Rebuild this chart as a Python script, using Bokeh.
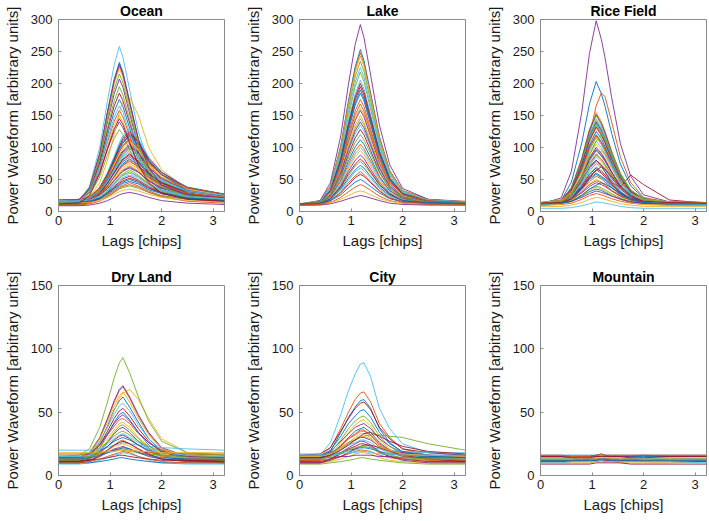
from bokeh.plotting import figure
from bokeh.layouts import column, row
from bokeh.models import FixedTicker
from bokeh.embed import file_html
from bokeh.resources import INLINE

# ---------------- data ----------------
LAGS = [0, 0.4, 0.6, 0.8, 0.95, 1.08, 1.18, 1.25, 1.38, 1.55, 1.75, 2.0, 2.5, 3.22]

X_TICKS = [0, 1, 2, 3]
Y_TICKS_TOP = [0, 50, 100, 150, 200, 250, 300]
Y_TICKS_BOTTOM = [0, 50, 100, 150]

TITLES = ["Ocean", "Lake", "Rice Field", "Dry Land", "City", "Mountain"]

OCEAN = [
    [14, 16, 36, 91, 156, 207, 233, 218, 172, 113, 69, 40, 25, 21],
    [16, 18, 37, 90, 154, 203, 228, 213, 169, 111, 69, 41, 27, 23],
    [13, 15, 34, 87, 150, 199, 224, 209, 165, 108, 66, 38, 24, 20],
    [15, 17, 34, 82, 140, 184, 207, 194, 153, 101, 63, 38, 25, 21],
    [12, 14, 30, 76, 131, 173, 195, 182, 144, 94, 58, 34, 21, 18],
    [15, 17, 39, 100, 173, 229, 258, 241, 190, 124, 76, 44, 27, 22],
    [17, 19, 34, 76, 126, 165, 185, 173, 138, 93, 59, 37, 25, 22],
    [14, 16, 30, 70, 119, 156, 175, 164, 130, 86, 54, 33, 22, 19],
    [16, 17, 30, 66, 108, 141, 158, 148, 118, 80, 52, 33, 23, 21],
    [13, 14, 27, 61, 102, 134, 150, 140, 112, 75, 47, 29, 20, 18],
    [18, 19, 30, 61, 97, 125, 140, 131, 106, 73, 49, 33, 24, 22],
    [14, 15, 25, 54, 88, 114, 128, 120, 96, 65, 43, 28, 20, 19],
    [15, 15, 21, 38, 61, 86, 107, 118, 130, 113, 84, 61, 38, 27],
    [13, 13, 19, 35, 58, 82, 103, 114, 125, 108, 80, 58, 35, 24],
    [17, 17, 22, 38, 58, 80, 99, 108, 120, 104, 79, 58, 38, 27],
    [12, 12, 17, 33, 53, 75, 94, 103, 115, 99, 74, 53, 33, 22],
    [16, 16, 21, 35, 54, 74, 94, 102, 110, 97, 73, 54, 35, 25],
    [14, 14, 19, 32, 50, 70, 87, 95, 105, 92, 69, 50, 32, 23],
    [11, 11, 16, 29, 46, 67, 82, 91, 100, 87, 65, 47, 29, 20],
    [15, 15, 19, 31, 47, 65, 79, 87, 95, 83, 63, 47, 31, 23],
    [13, 13, 17, 28, 44, 61, 75, 82, 90, 78, 59, 44, 28, 21],
    [18, 18, 21, 31, 45, 60, 72, 78, 85, 76, 58, 45, 31, 25],
    [12, 12, 15, 26, 39, 54, 66, 73, 80, 70, 53, 39, 26, 19],
    [16, 16, 19, 28, 40, 53, 63, 69, 75, 67, 51, 40, 28, 22],
    [14, 14, 17, 25, 36, 48, 59, 64, 70, 62, 48, 36, 25, 20],
    [10, 10, 13, 21, 32, 44, 54, 59, 65, 57, 43, 32, 21, 16],
    [17, 17, 19, 26, 34, 44, 51, 56, 60, 54, 43, 34, 26, 21],
    [13, 13, 15, 21, 30, 39, 46, 51, 55, 49, 39, 30, 21, 17],
    [15, 15, 17, 22, 29, 36, 42, 46, 50, 45, 36, 29, 22, 19],
    [12, 12, 14, 19, 25, 32, 38, 41, 45, 40, 32, 25, 19, 15],
    [15, 15, 22, 45, 80, 120, 155, 172, 178, 150, 100, 65, 35, 25],
    [9, 9, 10, 13, 17, 22, 26, 28, 30, 27, 22, 17, 13, 11],
    [14, 14, 15, 19, 24, 30, 35, 37, 40, 36, 30, 24, 19, 17],
    [14, 14, 20, 37, 60, 85, 105, 117, 128, 113, 85, 62, 37, 25],
    [16, 16, 21, 37, 58, 82, 101, 111, 122, 108, 82, 61, 37, 27],
    [12, 12, 17, 33, 54, 78, 97, 107, 118, 104, 78, 57, 33, 23],
    [18, 18, 23, 37, 56, 76, 93, 103, 112, 100, 76, 57, 37, 27],
    [13, 13, 18, 32, 51, 72, 89, 99, 108, 96, 72, 53, 32, 23],
    [15, 15, 19, 32, 50, 69, 85, 93, 102, 91, 69, 52, 32, 24],
    [11, 11, 15, 28, 46, 65, 81, 89, 98, 87, 65, 48, 28, 20],
    [17, 17, 21, 32, 47, 64, 77, 85, 92, 82, 64, 49, 32, 25],
    [14, 14, 18, 29, 44, 60, 73, 81, 88, 78, 60, 45, 29, 21],
    [12, 12, 16, 26, 40, 55, 68, 75, 82, 73, 55, 41, 26, 19],
    [16, 16, 19, 28, 41, 54, 66, 72, 78, 70, 54, 42, 28, 22],
    [13, 13, 16, 25, 37, 50, 60, 66, 72, 64, 50, 38, 25, 19],
    [15, 15, 18, 26, 36, 48, 57, 63, 68, 61, 48, 37, 26, 20],
    [11, 11, 14, 21, 31, 43, 52, 57, 62, 55, 43, 32, 21, 16],
    [16, 16, 18, 24, 32, 41, 49, 53, 57, 52, 41, 33, 24, 20],
    [12, 12, 14, 20, 28, 37, 44, 48, 52, 47, 37, 29, 20, 16],
    [14, 14, 16, 21, 27, 34, 40, 44, 47, 43, 34, 28, 21, 17],
    [10, 10, 12, 16, 23, 30, 36, 39, 42, 38, 30, 23, 16, 13],
    [13, 13, 14, 17, 22, 27, 31, 33, 35, 32, 27, 22, 17, 15],
    [15, 17, 37, 90, 155, 204, 230, 215, 170, 112, 69, 41, 26, 21],
    [14, 16, 34, 84, 145, 191, 215, 201, 159, 104, 64, 38, 24, 20],
    [15, 17, 30, 68, 113, 147, 165, 155, 123, 83, 53, 33, 23, 20],
    [12, 13, 25, 59, 98, 129, 145, 136, 108, 72, 45, 28, 19, 16],
]

LAKE = [
    [10, 15, 39, 102, 173, 226, 253, 236, 185, 117, 63, 32, 17, 14],
    [12, 17, 40, 102, 170, 222, 248, 231, 182, 116, 64, 33, 19, 16],
    [11, 16, 39, 99, 166, 217, 243, 227, 178, 113, 62, 32, 18, 14],
    [11, 17, 45, 118, 199, 261, 292, 272, 213, 135, 73, 36, 19, 15],
    [10, 14, 35, 89, 149, 195, 218, 203, 160, 102, 56, 29, 16, 13],
    [12, 16, 35, 85, 141, 184, 205, 192, 151, 97, 54, 29, 18, 15],
    [11, 15, 33, 81, 134, 175, 195, 182, 143, 92, 51, 28, 17, 14],
    [10, 14, 31, 77, 127, 166, 185, 173, 136, 87, 49, 26, 15, 13],
    [11, 14, 31, 73, 121, 157, 175, 164, 129, 83, 47, 26, 16, 13],
    [12, 15, 30, 69, 113, 146, 162, 152, 120, 78, 45, 26, 17, 14],
    [10, 13, 28, 66, 109, 142, 158, 148, 117, 75, 43, 23, 14, 12],
    [11, 14, 27, 62, 101, 130, 145, 136, 107, 70, 40, 23, 15, 13],
    [12, 14, 27, 59, 94, 121, 135, 126, 101, 66, 39, 23, 16, 14],
    [10, 12, 24, 55, 89, 115, 128, 120, 95, 62, 36, 21, 14, 12],
    [11, 13, 23, 49, 79, 101, 112, 105, 84, 55, 33, 20, 14, 13],
    [12, 14, 23, 47, 74, 95, 105, 98, 79, 53, 32, 20, 15, 13],
    [10, 12, 20, 42, 67, 86, 95, 89, 71, 47, 29, 18, 13, 11],
    [11, 13, 20, 40, 63, 80, 88, 83, 66, 45, 28, 18, 13, 12],
    [12, 13, 20, 37, 56, 71, 78, 73, 60, 41, 27, 18, 14, 13],
    [10, 11, 17, 32, 49, 62, 68, 64, 52, 36, 23, 15, 12, 11],
    [11, 12, 17, 29, 42, 53, 58, 55, 45, 32, 21, 15, 12, 12],
    [12, 13, 17, 26, 37, 46, 50, 47, 39, 29, 20, 15, 13, 12],
    [10, 11, 14, 22, 31, 38, 42, 40, 33, 24, 17, 13, 11, 10],
    [11, 11, 14, 19, 25, 30, 32, 31, 26, 20, 16, 13, 12, 11],
    [10, 10, 12, 16, 20, 23, 25, 24, 21, 17, 13, 11, 10, 10],
    [11, 15, 38, 96, 161, 210, 235, 219, 172, 110, 60, 31, 18, 14],
    [12, 16, 38, 93, 155, 202, 225, 210, 165, 106, 59, 31, 18, 15],
    [10, 14, 33, 82, 137, 179, 200, 187, 147, 94, 52, 27, 16, 13],
    [11, 15, 32, 79, 131, 170, 190, 177, 140, 90, 50, 27, 16, 14],
    [12, 15, 31, 71, 117, 151, 168, 157, 124, 81, 46, 26, 17, 14],
    [10, 13, 27, 63, 104, 135, 150, 140, 111, 72, 41, 23, 14, 12],
    [11, 14, 26, 60, 97, 126, 140, 131, 104, 68, 39, 23, 15, 13],
    [12, 14, 25, 53, 84, 108, 120, 112, 90, 60, 36, 22, 15, 14],
    [10, 12, 21, 44, 70, 90, 100, 94, 75, 50, 30, 18, 13, 11],
    [11, 12, 20, 38, 59, 74, 82, 77, 62, 42, 27, 17, 13, 12],
    [12, 13, 19, 35, 52, 65, 72, 68, 55, 38, 25, 17, 14, 13],
    [10, 11, 16, 30, 45, 56, 62, 58, 47, 33, 21, 15, 12, 11],
]

RICE = [
    [11, 17, 46, 107, 168, 203, 184, 165, 122, 74, 40, 21, 13, 11],
    [13, 15, 30, 70, 120, 165, 185, 180, 140, 85, 45, 22, 14, 13],
    [12, 16, 38, 84, 129, 155, 141, 126, 95, 59, 33, 19, 13, 12],
    [12, 21, 63, 155, 247, 298, 269, 241, 178, 106, 55, 26, 15, 12],
    [10, 14, 35, 80, 125, 150, 136, 122, 91, 56, 31, 17, 11, 10],
    [13, 17, 37, 79, 121, 145, 132, 119, 90, 57, 33, 20, 14, 13],
    [11, 15, 34, 76, 117, 140, 127, 114, 86, 54, 30, 17, 12, 11],
    [14, 18, 36, 76, 116, 138, 126, 113, 86, 55, 33, 20, 15, 14],
    [12, 16, 34, 74, 113, 135, 123, 110, 83, 53, 30, 18, 13, 12],
    [10, 14, 32, 70, 108, 130, 118, 106, 80, 50, 28, 16, 11, 10],
    [13, 16, 32, 67, 101, 120, 109, 99, 75, 48, 29, 18, 14, 13],
    [11, 14, 30, 63, 96, 115, 105, 94, 71, 45, 27, 16, 12, 11],
    [12, 15, 30, 61, 92, 110, 100, 90, 69, 44, 27, 17, 13, 12],
    [10, 13, 26, 55, 84, 100, 91, 82, 62, 40, 24, 15, 11, 10],
    [14, 16, 29, 55, 80, 95, 87, 79, 61, 41, 26, 18, 15, 14],
    [12, 14, 26, 51, 76, 90, 82, 74, 57, 38, 24, 16, 13, 12],
    [11, 13, 24, 48, 72, 85, 78, 70, 54, 35, 22, 15, 12, 11],
    [13, 15, 25, 47, 68, 80, 73, 67, 52, 35, 23, 16, 14, 13],
    [10, 12, 22, 43, 63, 75, 69, 62, 48, 31, 20, 13, 11, 10],
    [12, 14, 22, 41, 60, 70, 64, 58, 46, 31, 21, 15, 13, 12],
    [11, 13, 21, 38, 55, 65, 60, 54, 42, 29, 19, 14, 12, 11],
    [14, 15, 22, 37, 52, 60, 55, 51, 41, 29, 21, 16, 15, 14],
    [12, 13, 20, 34, 47, 55, 51, 46, 37, 26, 18, 14, 13, 12],
    [10, 11, 17, 30, 43, 50, 46, 42, 33, 23, 16, 12, 10, 10],
    [13, 14, 19, 29, 39, 45, 42, 39, 32, 24, 18, 15, 13, 13],
    [11, 12, 16, 26, 35, 40, 37, 34, 28, 21, 15, 12, 11, 11],
    [5, 5, 6, 9, 12, 15, 14, 13, 11, 8, 6, 5, 5, 5],
    [12, 14, 26, 48, 70, 80, 72, 62, 45, 38, 57, 42, 18, 13],
    [12, 13, 16, 24, 31, 35, 33, 30, 25, 20, 15, 13, 12, 12],
    [10, 11, 13, 19, 25, 28, 26, 24, 20, 16, 13, 11, 10, 10],
    [8, 8, 10, 14, 19, 22, 21, 19, 16, 12, 10, 8, 8, 8],
    [12, 16, 37, 82, 127, 152, 138, 124, 93, 58, 33, 19, 13, 12],
    [14, 18, 37, 78, 119, 142, 129, 116, 88, 56, 33, 20, 15, 14],
    [11, 15, 34, 74, 114, 137, 124, 112, 84, 53, 30, 17, 12, 11],
    [13, 17, 34, 73, 111, 132, 120, 108, 82, 52, 31, 19, 14, 13],
    [10, 13, 31, 68, 104, 125, 114, 102, 77, 48, 27, 16, 11, 10],
    [12, 15, 31, 65, 99, 118, 107, 97, 73, 47, 28, 17, 13, 12],
    [14, 17, 30, 60, 89, 105, 96, 87, 67, 44, 28, 19, 15, 14],
    [11, 14, 26, 54, 82, 97, 88, 80, 61, 39, 24, 15, 12, 11],
    [13, 15, 27, 51, 75, 88, 81, 73, 57, 38, 24, 17, 14, 13],
    [10, 12, 22, 44, 66, 78, 71, 64, 49, 32, 20, 13, 11, 10],
    [12, 14, 22, 40, 58, 68, 62, 57, 44, 30, 20, 15, 13, 12],
    [11, 12, 19, 35, 50, 58, 53, 49, 38, 27, 18, 13, 11, 11],
    [13, 14, 19, 31, 42, 48, 45, 41, 33, 25, 18, 15, 13, 13],
    [10, 11, 15, 24, 33, 38, 35, 32, 26, 19, 14, 11, 10, 10],
    [12, 13, 16, 22, 28, 32, 30, 28, 24, 19, 15, 13, 12, 12],
    [12, 14, 26, 55, 88, 110, 120, 114, 92, 60, 34, 19, 13, 12],
    [11, 13, 22, 45, 71, 87, 95, 90, 73, 48, 28, 16, 12, 11],
    [13, 14, 20, 36, 53, 64, 70, 66, 55, 38, 24, 16, 14, 13],
    [12, 13, 16, 25, 35, 41, 45, 43, 37, 28, 19, 14, 12, 12],
]

DRY_LAND = [
    [11, 12, 15, 26, 39, 52, 59, 62, 54, 42, 29, 19, 13, 12],
    [12, 13, 17, 29, 44, 58, 67, 70, 61, 47, 33, 21, 14, 13],
    [14, 14, 17, 26, 38, 51, 61, 65, 68, 60, 45, 29, 18, 16],
    [13, 14, 18, 30, 45, 59, 68, 71, 62, 48, 34, 22, 15, 14],
    [15, 16, 21, 38, 58, 77, 89, 93, 81, 62, 43, 27, 18, 16],
    [14, 14, 17, 27, 38, 48, 55, 57, 51, 40, 29, 20, 16, 14],
    [12, 12, 15, 24, 35, 45, 51, 53, 47, 37, 27, 18, 14, 12],
    [10, 10, 13, 22, 32, 42, 48, 50, 44, 34, 24, 16, 12, 10],
    [15, 15, 17, 24, 32, 39, 44, 45, 41, 33, 26, 20, 16, 15],
    [13, 13, 15, 22, 29, 36, 41, 42, 38, 30, 23, 17, 14, 13],
    [11, 11, 13, 19, 26, 33, 37, 38, 34, 27, 21, 15, 12, 11],
    [16, 16, 18, 22, 26, 31, 34, 35, 32, 27, 23, 19, 17, 16],
    [20, 20, 20, 21, 22, 24, 25, 26, 25, 24, 23, 22, 21, 20],
    [12, 12, 14, 18, 23, 28, 31, 32, 29, 24, 19, 15, 13, 12],
    [14, 14, 15, 19, 23, 27, 29, 30, 28, 24, 20, 16, 15, 14],
    [10, 10, 11, 15, 20, 24, 27, 28, 25, 21, 16, 13, 11, 10],
    [13, 13, 14, 17, 20, 23, 24, 25, 23, 20, 17, 15, 13, 13],
    [11, 11, 12, 15, 18, 21, 22, 23, 21, 18, 15, 13, 11, 11],
    [15, 15, 15, 17, 18, 19, 20, 20, 19, 18, 17, 16, 15, 15],
    [9, 9, 10, 12, 14, 16, 17, 18, 17, 15, 12, 10, 9, 9],
    [12, 12, 12, 13, 14, 15, 16, 16, 15, 14, 13, 12, 12, 12],
    [10, 10, 10, 11, 12, 13, 14, 14, 13, 12, 11, 10, 10, 10],
    [17, 17, 17, 18, 19, 20, 21, 21, 20, 19, 18, 18, 17, 17],
    [13, 14, 17, 29, 42, 55, 63, 66, 58, 45, 32, 21, 15, 14],
    [14, 14, 17, 24, 33, 41, 46, 48, 43, 34, 26, 19, 15, 14],
    [12, 12, 14, 20, 27, 34, 39, 40, 36, 29, 22, 16, 13, 12],
    [15, 15, 16, 20, 25, 29, 32, 33, 30, 26, 21, 18, 16, 15],
    [11, 11, 12, 16, 20, 24, 26, 27, 25, 21, 17, 13, 12, 11],
    [13, 13, 14, 16, 18, 20, 21, 22, 21, 18, 16, 14, 13, 13],
    [10, 10, 11, 13, 15, 17, 18, 19, 18, 15, 13, 11, 10, 10],
    [18, 18, 18, 18, 19, 19, 20, 20, 20, 19, 19, 18, 18, 18],
]

CITY = [
    [12, 13, 19, 34, 46, 54, 59, 60, 53, 37, 26, 18, 14, 12],
    [14, 15, 22, 37, 50, 60, 65, 66, 58, 41, 30, 21, 16, 14],
    [11, 12, 16, 26, 34, 40, 43, 44, 39, 28, 21, 15, 12, 11],
    [15, 15, 19, 27, 33, 38, 40, 41, 37, 29, 23, 18, 16, 15],
    [13, 14, 18, 28, 37, 43, 46, 47, 42, 31, 23, 17, 14, 13],
    [15, 16, 26, 48, 67, 80, 88, 89, 78, 53, 37, 25, 18, 16],
    [16, 17, 22, 35, 45, 53, 57, 58, 52, 38, 29, 21, 18, 16],
    [12, 13, 16, 24, 30, 35, 37, 38, 34, 26, 20, 15, 13, 12],
    [14, 14, 17, 23, 29, 32, 35, 35, 32, 25, 20, 17, 15, 14],
    [10, 10, 13, 20, 26, 30, 33, 33, 30, 22, 17, 13, 11, 10],
    [16, 16, 18, 22, 26, 28, 30, 30, 28, 23, 20, 18, 16, 16],
    [15, 15, 17, 21, 25, 28, 30, 31, 32, 32, 31, 30, 25, 20],
    [13, 13, 15, 20, 24, 26, 28, 28, 26, 21, 18, 15, 14, 13],
    [11, 11, 13, 17, 21, 23, 25, 25, 23, 18, 15, 13, 11, 11],
    [15, 15, 16, 18, 20, 21, 22, 22, 21, 19, 17, 16, 15, 15],
    [12, 12, 13, 15, 17, 19, 20, 20, 19, 16, 14, 13, 12, 12],
    [10, 10, 11, 13, 15, 17, 18, 18, 17, 14, 12, 11, 10, 10],
    [14, 14, 14, 15, 15, 16, 16, 16, 16, 15, 15, 14, 14, 14],
    [9, 9, 10, 11, 12, 13, 14, 14, 13, 12, 11, 10, 9, 9],
    [17, 17, 17, 18, 19, 20, 21, 22, 22, 21, 20, 19, 18, 18],
    [10, 10, 12, 15, 18, 21, 23, 24, 24, 22, 19, 16, 13, 11],
    [14, 15, 20, 31, 41, 47, 51, 52, 46, 34, 25, 19, 16, 14],
    [12, 12, 16, 23, 29, 33, 36, 36, 32, 24, 19, 15, 13, 12],
    [15, 15, 17, 22, 26, 29, 31, 31, 29, 23, 20, 17, 16, 15],
    [10, 10, 13, 18, 22, 25, 27, 27, 24, 19, 15, 12, 10, 10],
    [13, 13, 15, 18, 20, 22, 23, 23, 22, 18, 16, 14, 13, 13],
    [16, 16, 16, 17, 18, 18, 19, 19, 18, 17, 17, 16, 16, 16],
    [14, 14, 16, 20, 24, 28, 31, 33, 34, 31, 27, 23, 19, 17],
]

MOUNTAIN = [
    [14, 14, 14, 15, 15, 16, 17, 16, 15, 15, 15, 15, 15, 15],
    [12, 12, 12, 12, 13, 13, 13, 13, 13, 12, 12, 12, 13, 13],
    [10, 10, 10, 10, 10, 11, 11, 11, 11, 10, 10, 10, 10, 11],
    [15, 15, 15, 15, 15, 15, 15, 15, 15, 15, 15, 16, 15, 15],
    [11, 11, 11, 11, 11, 12, 12, 12, 12, 11, 11, 11, 11, 11],
    [13, 13, 13, 14, 14, 14, 14, 14, 14, 14, 13, 13, 14, 13],
    [9, 9, 9, 9, 9, 10, 10, 10, 10, 10, 9, 9, 9, 9],
    [16, 16, 16, 16, 16, 16, 16, 16, 16, 16, 16, 16, 16, 16],
    [12, 12, 12, 13, 13, 13, 13, 13, 13, 13, 13, 12, 12, 12],
    [14, 14, 14, 14, 14, 14, 15, 15, 14, 14, 14, 14, 14, 14],
    [11, 11, 11, 12, 12, 12, 12, 12, 12, 12, 12, 11, 11, 11],
    [13, 13, 13, 13, 13, 13, 13, 13, 13, 13, 13, 13, 13, 13],
    [10, 10, 11, 11, 11, 11, 12, 11, 11, 11, 11, 11, 11, 10],
    [15, 15, 14, 14, 14, 15, 15, 15, 15, 15, 14, 14, 15, 15],
    [12, 12, 12, 12, 12, 12, 13, 13, 12, 12, 12, 12, 12, 12],
    [16, 16, 15, 15, 15, 16, 17, 16, 16, 16, 16, 16, 16, 16],
]

PANELS = [OCEAN, LAKE, RICE, DRY_LAND, CITY, MOUNTAIN]
Y_MAX = [300, 300, 300, 150, 150, 150]

COLOR_ORDER = ["#0072BD", "#D95319", "#EDB120", "#7E2F8E",
               "#77AC30", "#4DBEEE", "#A2142F"]

FONT = "Liberation Sans"
AXIS_GRAY = "#8a8a8a"
TEXT_COLOR = "#1a1a1a"


def make_panel(idx, width, height, b_left, b_right, b_top, b_bottom):
    curves = PANELS[idx]
    ymax = Y_MAX[idx]
    p = figure(width=width, height=height, x_range=(0, 3.22), y_range=(0, ymax),
               output_backend="svg", toolbar_location=None,
               min_border_left=b_left, min_border_right=b_right,
               min_border_top=b_top, min_border_bottom=b_bottom,
               title=TITLES[idx])
    p.title.text_font = FONT
    p.title.text_font_size = "14px"
    p.title.text_font_style = "bold"
    p.title.align = "center"
    p.title.text_color = "#000000"
    p.title.standoff = 1
    p.xgrid.visible = False
    p.ygrid.visible = False
    p.outline_line_color = AXIS_GRAY
    p.outline_line_alpha = 1.0
    p.background_fill_color = "white"
    p.border_fill_color = "white"

    xs = [LAGS for _ in curves]
    cols = [COLOR_ORDER[i % len(COLOR_ORDER)] for i in range(len(curves))]
    p.multi_line(xs=xs, ys=curves, line_color=cols, line_width=0.9)

    yt = Y_TICKS_TOP if ymax == 300 else Y_TICKS_BOTTOM
    p.xaxis.ticker = FixedTicker(ticks=X_TICKS)
    p.yaxis.ticker = FixedTicker(ticks=yt)
    p.xaxis.axis_label = "Lags [chips]"
    p.yaxis.axis_label = "Power Waveform [arbitrary units]"
    for ax in (p.xaxis[0], p.yaxis[0]):
        ax.axis_line_color = AXIS_GRAY
        ax.major_tick_line_color = AXIS_GRAY
        ax.major_tick_in = 3
        ax.major_tick_out = 0
        ax.minor_tick_line_color = None
        ax.major_label_text_font = FONT
        ax.major_label_text_color = TEXT_COLOR
        ax.major_label_text_font_size = "13px"
        ax.axis_label_text_font = FONT
        ax.axis_label_text_font_size = "15px"
        ax.axis_label_text_font_style = "normal"
        ax.axis_label_text_color = TEXT_COLOR
    p.xaxis.major_label_standoff = 4
    p.yaxis.major_label_standoff = 6
    p.xaxis.axis_label_standoff = 4
    p.yaxis.axis_label_standoff = 7
    return p


p1 = make_panel(0, 241, 266, 57, 17, 18, 55)
p2 = make_panel(1, 241, 266, 57, 17, 18, 55)
p3 = make_panel(2, 227, 266, 57, 3, 18, 55)
p4 = make_panel(3, 241, 255, 57, 17, 18, 46)
p5 = make_panel(4, 241, 255, 57, 17, 18, 46)
p6 = make_panel(5, 227, 255, 57, 3, 18, 46)

layout = column(row(p1, p2, p3), row(p4, p5, p6))

open("out.html", "w").write(file_html(layout, INLINE))
